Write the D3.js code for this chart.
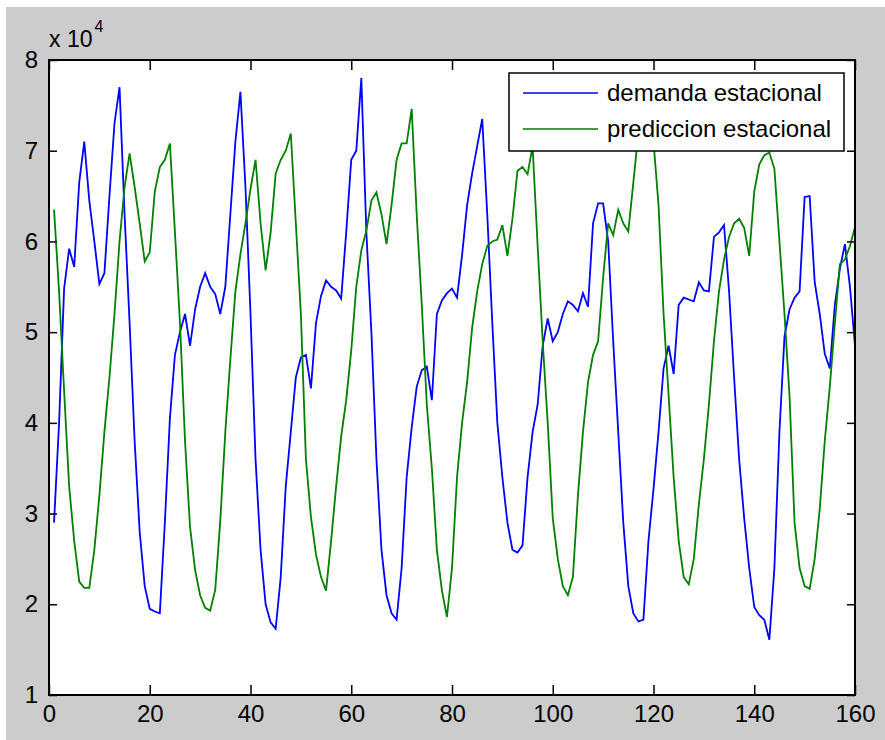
<!DOCTYPE html>
<html>
<head>
<meta charset="utf-8">
<script src="https://cdn.jsdelivr.net/npm/d3@7"></script>
<style>
  html, body { margin: 0; padding: 0; background: #fff; }
  svg text { font-family: "Liberation Sans", Arial, sans-serif; fill: #000; }
</style>
</head>
<body>
<svg id="chart"></svg>
<script>
// values, in units of 10^4 (x = 1..160)
const demanda = [
  2.9, 4.0, 5.48, 5.92, 5.72, 6.65, 7.1, 6.45, 6.0, 5.53,
  5.65, 6.5, 7.3, 7.7, 6.3, 5.1, 3.8, 2.8, 2.2, 1.95,
  1.92, 1.9, 2.9, 4.05, 4.75, 5.0, 5.2, 4.85, 5.25, 5.5,
  5.65, 5.5, 5.42, 5.2, 5.5, 6.3, 7.1, 7.65, 6.6, 5.2,
  3.6, 2.6, 2.0, 1.8, 1.73, 2.3, 3.3, 3.9, 4.5, 4.72,
  4.75, 4.38, 5.1, 5.4, 5.57, 5.5, 5.46, 5.37, 6.1, 6.9,
  7.0, 7.8, 6.1, 5.0, 3.6, 2.6, 2.1, 1.9, 1.83, 2.4,
  3.4, 3.95, 4.4, 4.58, 4.62, 4.25, 5.2, 5.35, 5.43, 5.48,
  5.38, 5.85, 6.4, 6.75, 7.05, 7.35, 6.3, 5.1, 4.0, 3.4,
  2.9, 2.6, 2.57, 2.65, 3.4, 3.9, 4.2, 4.85, 5.15, 4.9,
  5.0, 5.2, 5.34, 5.3, 5.23, 5.43, 5.28, 6.2, 6.42, 6.42,
  6.0, 4.9, 3.9, 2.9, 2.2, 1.9, 1.81, 1.83, 2.7, 3.27,
  3.9, 4.6, 4.85, 4.54, 5.3, 5.38, 5.36, 5.34, 5.55, 5.46,
  5.45, 6.05, 6.1, 6.18, 5.45, 4.5, 3.6, 2.95, 2.4, 1.97,
  1.88, 1.83, 1.61, 2.4, 3.9, 4.95, 5.25, 5.38, 5.45, 6.49,
  6.5, 5.55, 5.2, 4.76, 4.6, 5.3, 5.7, 5.97, 5.5, 4.85
];
const prediccion = [
  6.35, 5.45, 4.35, 3.3, 2.7, 2.25, 2.18, 2.18, 2.6, 3.2,
  3.9, 4.5, 5.2, 6.0, 6.6, 6.97, 6.6, 6.2, 5.78, 5.88,
  6.55, 6.82, 6.9, 7.08, 6.1, 5.1, 3.8, 2.85, 2.38, 2.1,
  1.96, 1.93, 2.16, 2.92, 3.9, 4.7, 5.45, 5.86, 6.2, 6.58,
  6.9, 6.2, 5.68, 6.1, 6.75, 6.9, 7.0, 7.19, 6.2, 5.2,
  3.6, 2.96, 2.55, 2.3, 2.15, 2.7, 3.3, 3.85, 4.25, 4.8,
  5.5, 5.9, 6.12, 6.45, 6.54, 6.3, 5.97, 6.4, 6.9, 7.08,
  7.08, 7.46, 6.29, 5.3, 4.2, 3.5, 2.6, 2.15, 1.86, 2.4,
  3.4, 4.0, 4.45, 5.05, 5.45, 5.75, 5.95, 6.0, 6.02, 6.18,
  5.84, 6.25, 6.78, 6.82, 6.74, 7.05, 5.95, 4.9, 4.0, 2.95,
  2.5, 2.2, 2.1, 2.3, 3.2, 3.9, 4.45, 4.75, 4.9, 5.6,
  6.2, 6.07, 6.35, 6.2, 6.11, 6.65, 7.2, 7.45, 7.45, 7.1,
  6.4, 5.2, 4.3, 3.4, 2.7, 2.3, 2.22, 2.5, 3.1, 3.6,
  4.2, 4.9, 5.45, 5.8, 6.05, 6.2, 6.25, 6.15, 5.84, 6.55,
  6.85, 6.95, 6.98, 6.8, 6.0, 5.2, 4.3, 2.9, 2.4, 2.2,
  2.17, 2.5, 3.05, 3.8, 4.4, 5.1, 5.75, 5.8, 5.95, 6.16
];
const seriesNames = ["demanda estacional", "prediccion estacional"];
const seriesColors = ["#0000ff", "#008000"];
const xTicks = [0, 20, 40, 60, 80, 100, 120, 140, 160];
const yTicks = [1, 2, 3, 4, 5, 6, 7, 8];

const width = 885, height = 740;
const box = { left: 49, right: 855, top: 60, bottom: 695 };

const svg = d3.select("#chart")
  .attr("width", width)
  .attr("height", height);

// figure background (MATLAB grey)
svg.append("rect")
  .attr("x", 6).attr("y", 7)
  .attr("width", width - 6).attr("height", height - 7)
  .attr("fill", "#cccccc");

const x = d3.scaleLinear().domain([0, 160]).range([box.left, box.right]);
const y = d3.scaleLinear().domain([1, 8]).range([box.bottom, box.top]);

svg.append("rect")
  .attr("x", box.left).attr("y", box.top)
  .attr("width", box.right - box.left).attr("height", box.bottom - box.top)
  .attr("fill", "#fff");

const line = d3.line()
  .x((d, i) => x(i + 1))
  .y(d => y(d));

[demanda, prediccion].forEach((s, k) => {
  svg.append("path")
    .datum(s)
    .attr("fill", "none")
    .attr("stroke", seriesColors[k])
    .attr("stroke-width", 1.8)
    .attr("stroke-linejoin", "miter")
    .attr("d", line);
});

// axes, ticks pointing in, mirrored on top/right
function styleAxis(g) {
  g.select(".domain").remove();
  g.selectAll("line").attr("stroke", "#000").attr("stroke-width", 1.5);
  g.selectAll("text").attr("font-size", 24).attr("fill", "#000")
    .attr("font-family", "'Liberation Sans', Arial, sans-serif");
}

svg.append("g")
  .attr("transform", `translate(0,${box.bottom})`)
  .call(d3.axisBottom(x).tickValues(xTicks).tickSizeInner(-10).tickSizeOuter(0).tickPadding(10).tickFormat(d3.format("d")))
  .call(styleAxis);

svg.append("g")
  .attr("transform", `translate(0,${box.top})`)
  .call(d3.axisTop(x).tickValues(xTicks).tickSizeInner(-10).tickSizeOuter(0).tickFormat(""))
  .call(styleAxis);

svg.append("g")
  .attr("transform", `translate(${box.left},0)`)
  .call(d3.axisLeft(y).tickValues(yTicks).tickSizeInner(-8).tickSizeOuter(0).tickPadding(11).tickFormat(d3.format("d")))
  .call(styleAxis);

svg.append("g")
  .attr("transform", `translate(${box.right},0)`)
  .call(d3.axisRight(y).tickValues(yTicks).tickSizeInner(-8).tickSizeOuter(0).tickFormat(""))
  .call(styleAxis);

svg.append("rect")
  .attr("x", box.left).attr("y", box.top)
  .attr("width", box.right - box.left).attr("height", box.bottom - box.top)
  .attr("fill", "none")
  .attr("stroke", "#000")
  .attr("stroke-width", 2);

// exponent label
const expo = svg.append("text")
  .attr("x", box.left).attr("y", 47)
  .attr("font-size", 23);
expo.append("tspan").text("x 10");
expo.append("tspan").attr("font-size", 16).attr("dy", -15).attr("dx", 2).text("4");

// legend
const leg = svg.append("g");
leg.append("rect")
  .attr("x", 509).attr("y", 73)
  .attr("width", 335).attr("height", 78)
  .attr("fill", "#fff")
  .attr("stroke", "#000")
  .attr("stroke-width", 1.5);

seriesNames.forEach((name, k) => {
  const ly = 93 + k * 36;
  leg.append("line")
    .attr("x1", 523).attr("x2", 598)
    .attr("y1", ly).attr("y2", ly)
    .attr("stroke", seriesColors[k])
    .attr("stroke-width", 1.5);
  leg.append("text")
    .attr("x", 607).attr("y", ly)
    .attr("dy", "0.35em")
    .attr("font-size", 24)
    .text(name);
});
</script>
</body>
</html>
